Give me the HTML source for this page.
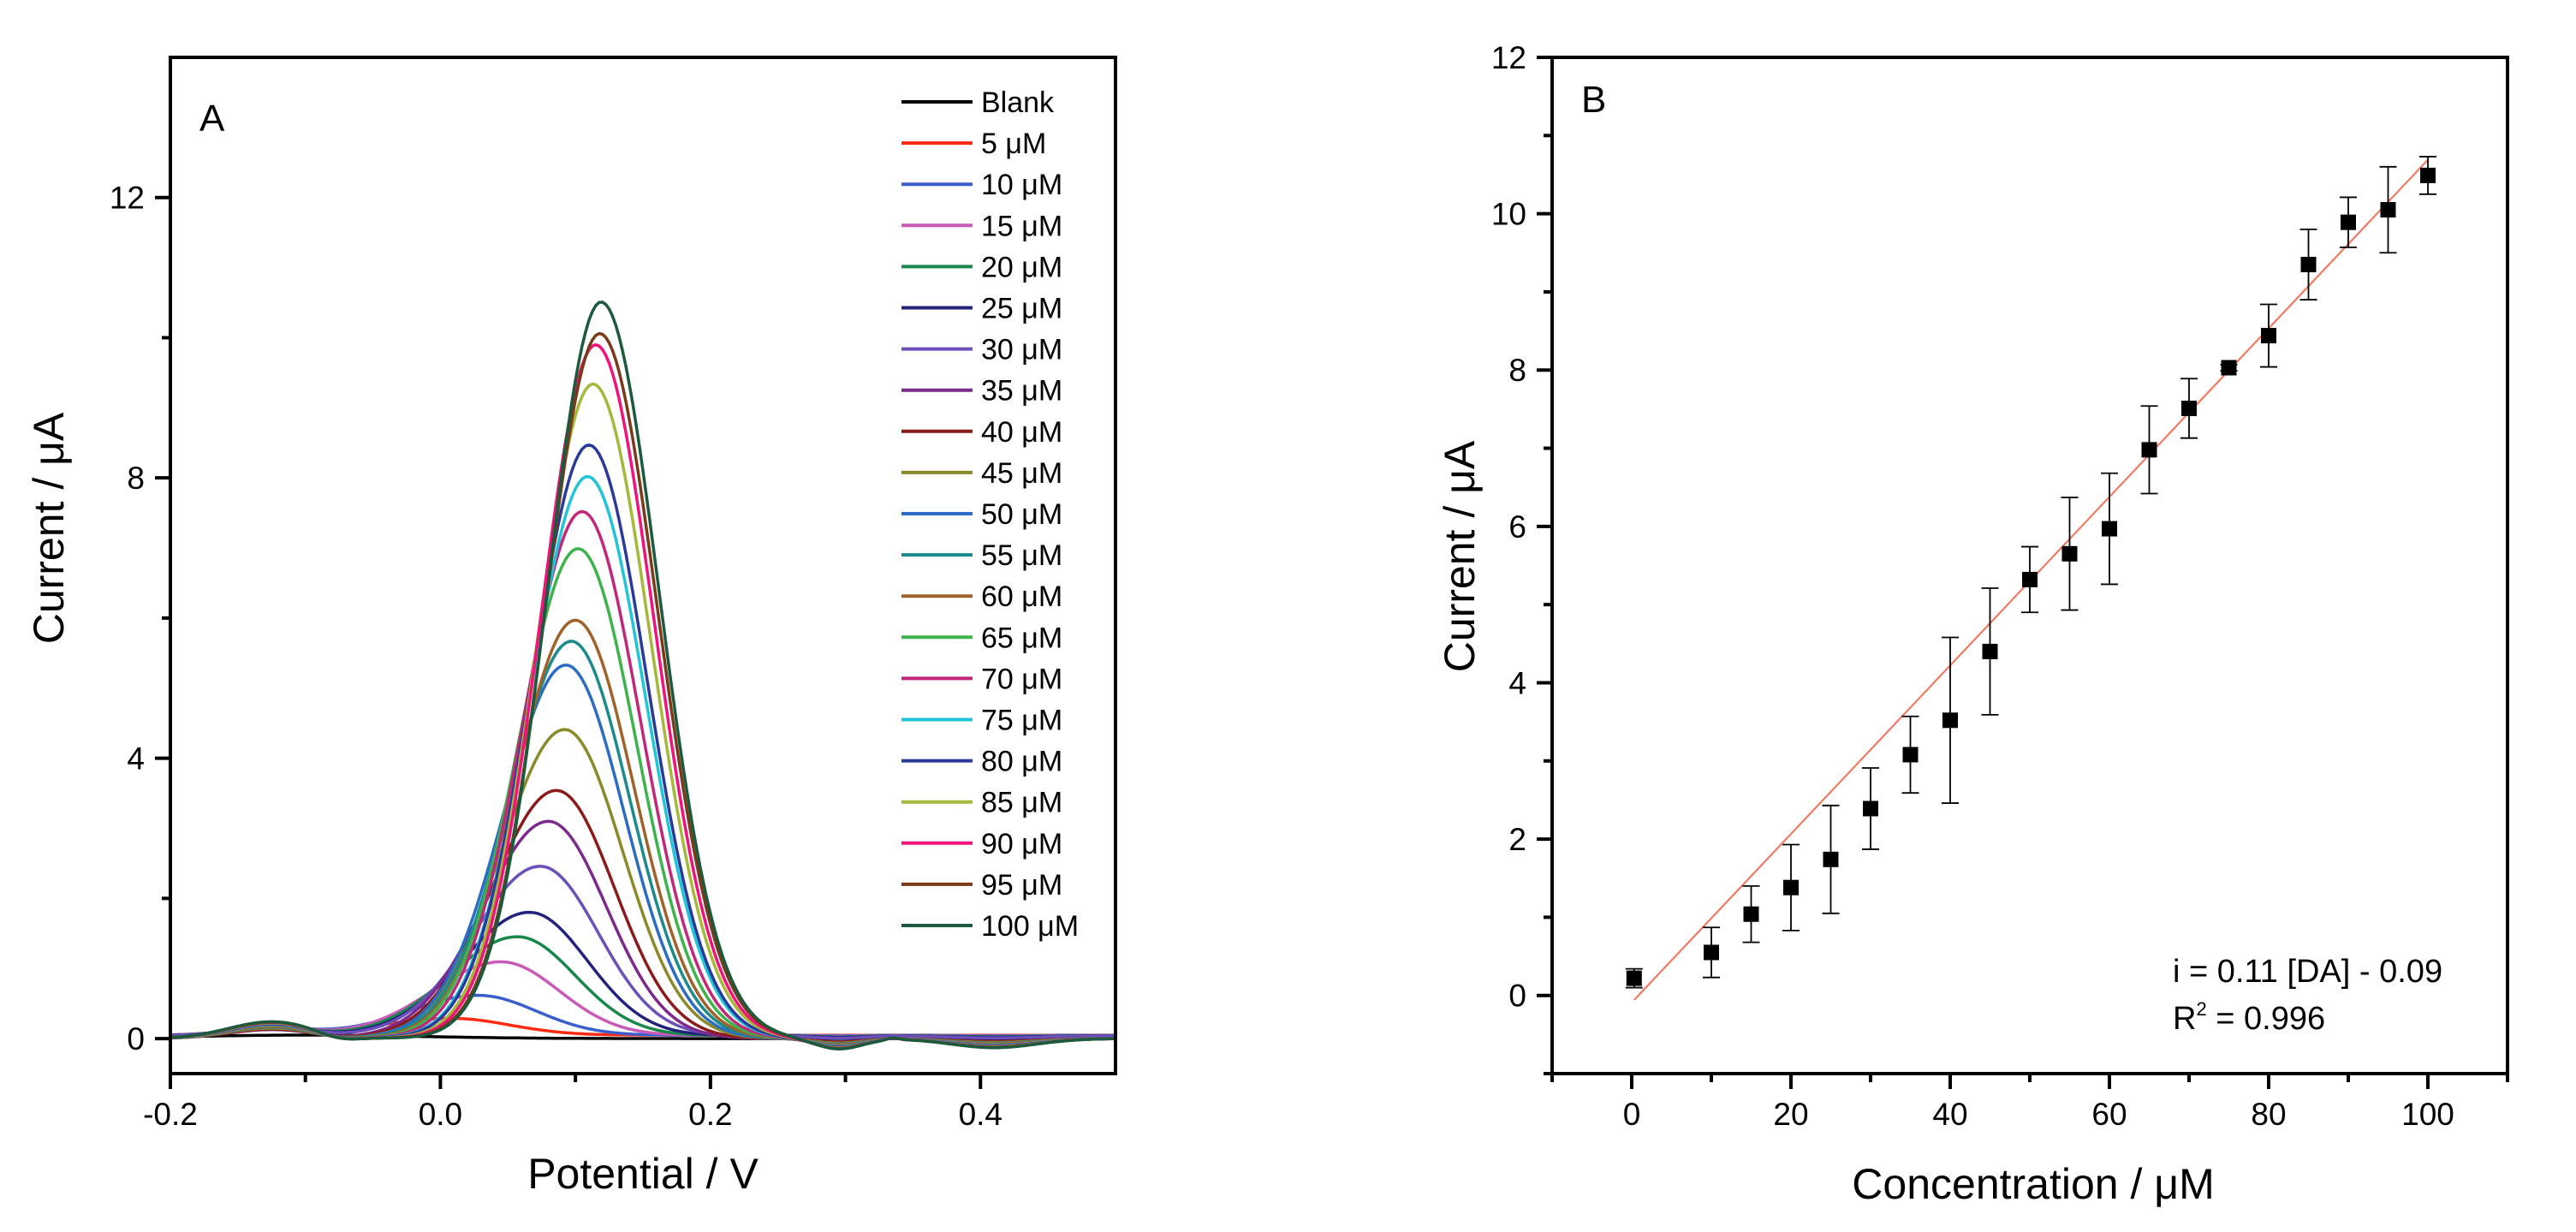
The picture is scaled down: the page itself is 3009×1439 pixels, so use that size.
<!DOCTYPE html>
<html><head><meta charset="utf-8">
<style>
html,body{margin:0;padding:0;background:#fff;}
svg{display:block;font-family:"Liberation Sans",Arial,sans-serif;}
</style></head>
<body>
<svg id="fig" width="3009" height="1439" viewBox="0 0 3009 1439" xmlns="http://www.w3.org/2000/svg">
<rect width="3009" height="1439" fill="#fff"/>
<g id="panelA"></g>
<g id="panelB"></g>
</svg>
<script>
// ---------- Panel A data ----------
const seriesLabels = ["Blank","5 μM","10 μM","15 μM","20 μM","25 μM","30 μM","35 μM","40 μM","45 μM","50 μM","55 μM","60 μM","65 μM","70 μM","75 μM","80 μM","85 μM","90 μM","95 μM","100 μM"];
const seriesColors = ["#000000","#ff2a12","#3a5fcd","#c95ab8","#17884a","#23237e","#6a50b8","#7d2a8c","#8b1a1a","#8a8a2a","#2b6cc4","#1a8a8a","#a0622a","#3cb44b","#c2287a","#22c4d8","#2a3a9a","#a6b83a","#f0147a","#7a3a1a","#1b5a3c"];
const peakHeights = [0.03,0.24,0.57,1.05,1.41,1.76,2.42,3.10,3.54,4.41,5.33,5.67,5.97,6.99,7.52,8.02,8.47,9.34,9.90,10.06,10.51];
const peakPotentials = [0.0,0.008,0.028,0.045,0.057,0.066,0.074,0.080,0.086,0.092,0.093,0.097,0.100,0.102,0.105,0.109,0.110,0.113,0.115,0.118,0.119];
const xTicksA = [-0.2,0.0,0.2,0.4];
const xTickLabelsA = ["-0.2","0.0","0.2","0.4"];
const yTicksA = [0,4,8,12];
const yTickLabelsA = ["0","4","8","12"];

// ---------- Panel B data ----------
const concentrations = [0.3,10,15,20,25,30,35,40,45,50,55,60,65,70,75,80,85,90,95,100];
const currents = [0.22,0.55,1.04,1.38,1.74,2.39,3.08,3.52,4.40,5.32,5.65,5.97,6.98,7.51,8.03,8.44,9.35,9.89,10.05,10.49];
const errors = [0.12,0.32,0.36,0.55,0.69,0.52,0.49,1.06,0.81,0.42,0.72,0.71,0.56,0.38,0.04,0.40,0.45,0.32,0.55,0.24];
const fitSlope = 0.1078;
const fitIntercept = -0.09;
const xTicksB = [0,20,40,60,80,100];
const yTicksB = [0,2,4,6,8,10,12];

const NS="http://www.w3.org/2000/svg";
function mk(parent,tag,attrs,text){
  const e=document.createElementNS(NS,tag);
  for(const k in attrs)e.setAttribute(k,attrs[k]);
  if(text!==undefined)e.textContent=text;
  parent.appendChild(e);return e;
}

// ===== Panel A =====
const A=document.getElementById('panelA');
const aL=199,aR=1303,aT=67,aB=1254;
const axA={x0:-0.2,x1:0.5,y0:-0.5,y1:14};
const xA=v=>aL+(v-axA.x0)/(axA.x1-axA.x0)*(aR-aL);
const yA=v=>aB-(v-axA.y0)/(axA.y1-axA.y0)*(aB-aT);

function shape(i,x){
  const h=peakHeights[i],p=peakPotentials[i];
  if(i===0){return 0.05*Math.exp(-Math.pow((x+0.1)/0.12,2));}
  const sl=0.040+0.012*(1-h/10.5), sr=0.043;
  const s=x<p?sl:sr;
  const k=h/10.5;
  let y=h*Math.exp(-(x-p)*(x-p)/(2*s*s));
  y+=(0.08+0.16*k)*Math.exp(-Math.pow((x+0.125)/0.045,2));
  y-=0.06*k*Math.exp(-Math.pow((x+0.075)/0.02,2));
  y-=0.15*k*Math.exp(-Math.pow((x-0.295)/0.025,2));
  y+=0.03*k*Math.exp(-Math.pow((x-0.335)/0.006,2));
  y-=0.13*k*Math.exp(-Math.pow((x-0.41)/0.045,2));
  if(i<=6) y+=0.05*(1-k);
  return y;
}
const curvesG=mk(A,'g',{});


for(let i=0;i<seriesLabels.length;i++){
  let d='';
  for(let x=axA.x0;x<=axA.x1+1e-9;x+=0.0025){
    d+=(d?'L':'M')+xA(x).toFixed(1)+','+yA(shape(i,x)).toFixed(1);
  }
  const p=mk(curvesG,'path',{d:d,fill:'none',stroke:seriesColors[i],'stroke-width':3.5,'stroke-linejoin':'round'});
  
  
}
// axes A
const boxA=mk(A,'rect',{x:aL,y:aT,width:aR-aL,height:aB-aT,fill:'none',stroke:'#000','stroke-width':4});


xTicksA.forEach((v,i)=>{
  mk(A,'line',{x1:xA(v),x2:xA(v),y1:aB,y2:aB+18,stroke:'#000','stroke-width':4});
  const t=mk(A,'text',{x:xA(v),y:1314,'font-size':37,'text-anchor':'middle'},xTickLabelsA[i]);
  
  
});
[-0.1,0.1,0.3].forEach(v=>mk(A,'line',{x1:xA(v),x2:xA(v),y1:aB,y2:aB+10,stroke:'#000','stroke-width':4}));
yTicksA.forEach((v,i)=>{
  mk(A,'line',{x1:aL-18,x2:aL,y1:yA(v),y2:yA(v),stroke:'#000','stroke-width':4});
  const t=mk(A,'text',{x:aL-30,y:yA(v)+13,'font-size':37,'text-anchor':'end'},yTickLabelsA[i]);
  
  
});
[2,6,10].forEach(v=>mk(A,'line',{x1:aL-10,x2:aL,y1:yA(v),y2:yA(v),stroke:'#000','stroke-width':4}));
let t;
t=mk(A,'text',{x:751,y:1388,'font-size':50,'text-anchor':'middle'},'Potential / V');


t=mk(A,'text',{x:0,y:0,'font-size':50,'text-anchor':'middle',transform:'translate(74,617) rotate(-90)'},'Current / μA');


t=mk(A,'text',{x:233,y:153,'font-size':44},'A');


// legend
const lg=mk(A,'g',{});


seriesLabels.forEach((lab,i)=>{
  const y=119+i*48.1;
  const e=mk(lg,'g',{});
  
  
  mk(e,'line',{x1:1053,x2:1136,y1:y,y2:y,stroke:seriesColors[i],'stroke-width':4});
  mk(e,'text',{x:1146,y:y+12,'font-size':34},lab);
});

// ===== Panel B =====
const B=document.getElementById('panelB');
const bL=1813,bR=2929,bT=67,bB=1254;
const axB={x0:-10,x1:110,y0:-1,y1:12};
const xB=v=>bL+(v-axB.x0)/(axB.x1-axB.x0)*(bR-bL);
const yB=v=>bB-(v-axB.y0)/(axB.y1-axB.y0)*(bB-bT);
const boxB=mk(B,'rect',{x:bL,y:bT,width:bR-bL,height:bB-bT,fill:'none',stroke:'#000','stroke-width':4});


xTicksB.forEach(v=>{
  mk(B,'line',{x1:xB(v),x2:xB(v),y1:bB,y2:bB+18,stroke:'#000','stroke-width':4});
  const tt=mk(B,'text',{x:xB(v),y:1314,'font-size':37,'text-anchor':'middle'},String(v));
  
  
});
[-10,10,30,50,70,90,110].forEach(v=>mk(B,'line',{x1:xB(v),x2:xB(v),y1:bB,y2:bB+10,stroke:'#000','stroke-width':4}));
yTicksB.forEach(v=>{
  mk(B,'line',{x1:bL-18,x2:bL,y1:yB(v),y2:yB(v),stroke:'#000','stroke-width':4});
  const tt=mk(B,'text',{x:bL-30,y:yB(v)+13,'font-size':37,'text-anchor':'end'},String(v));
  
  
});
[-1,1,3,5,7,9,11].forEach(v=>mk(B,'line',{x1:bL-10,x2:bL,y1:yB(v),y2:yB(v),stroke:'#000','stroke-width':4}));
// fit line
const fl=mk(B,'line',{x1:xB(0.3),y1:yB(fitSlope*0.3+fitIntercept),x2:xB(100),y2:yB(fitSlope*100+fitIntercept),stroke:'#f07a62','stroke-width':2.2});


// error bars + points
concentrations.forEach((c,i)=>{
  const cx=xB(c),lo=yB(currents[i]-errors[i]),hi=yB(currents[i]+errors[i]);
  const eb=mk(B,'g',{stroke:'#000','stroke-width':1.8});
  
  
  mk(eb,'line',{x1:cx,x2:cx,y1:lo,y2:hi});
  mk(eb,'line',{x1:cx-10,x2:cx+10,y1:lo,y2:lo});
  mk(eb,'line',{x1:cx-10,x2:cx+10,y1:hi,y2:hi});
  const pt=mk(B,'rect',{x:cx-9,y:yB(currents[i])-9,width:18,height:18,fill:'#000'});
  
  
});
t=mk(B,'text',{x:2375,y:1400,'font-size':50,'text-anchor':'middle'},'Concentration / μM');


t=mk(B,'text',{x:0,y:0,'font-size':50,'text-anchor':'middle',transform:'translate(1722,650) rotate(-90)'},'Current / μA');


t=mk(B,'text',{x:1847,y:131,'font-size':44},'B');


t=mk(B,'text',{x:2538,y:1147,'font-size':38},'i = 0.11 [DA] - 0.09');


t=mk(B,'text',{x:2538,y:1202,'font-size':38},'R');


mk(t,'tspan',{dy:-16,'font-size':22},'2');
mk(t,'tspan',{dy:16},' = 0.996');
</script>
</body></html>
